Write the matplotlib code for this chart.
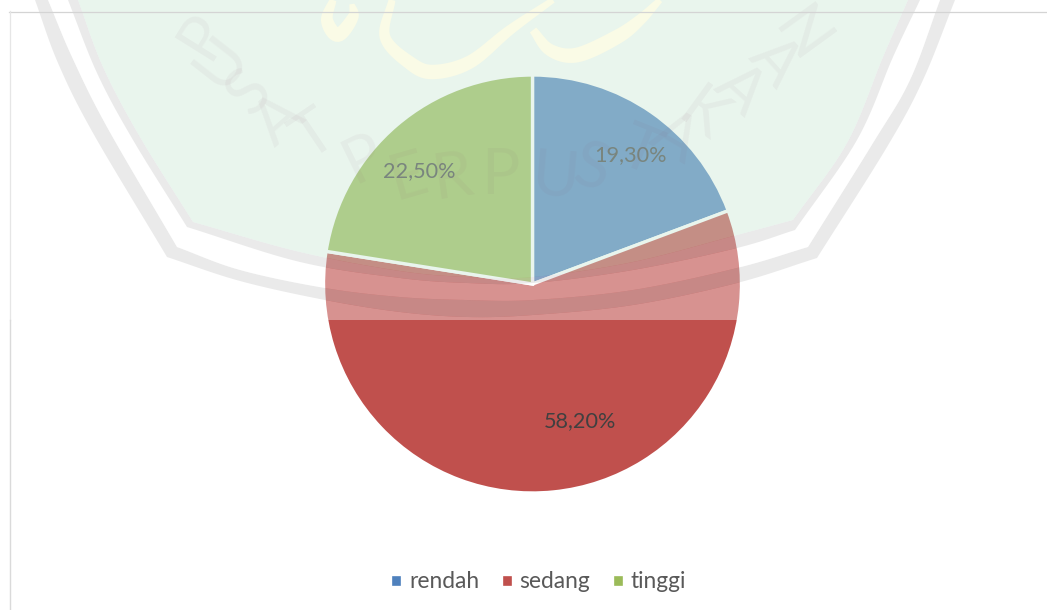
import numpy as np
import matplotlib.pyplot as plt
from matplotlib.patches import Polygon

plt.rcParams['font.family'] = ['Lato', 'DejaVu Sans']

labels = ['rendah', 'sedang', 'tinggi']
values = [19.3, 58.2, 22.5]
colors = ['#4f81bd', '#c0504d', '#9bbb59']

W, H = 1047, 610

fig = plt.figure(figsize=(W / 100, H / 100), dpi=100, facecolor='white')

# chart layer
ax = fig.add_axes([0, 0, 1, 1])
wedges, _ = ax.pie(values, colors=colors, startangle=90, counterclock=False,
                   center=(532.5, H - 284), radius=209,
                   wedgeprops={'edgecolor': 'white', 'linewidth': 2.4})
ax.set_xlim(0, W)
ax.set_ylim(0, H)
ax.axis('off')

label_pos = [(630, 155), (580, 421), (419, 171)]
for v, (x, y) in zip(values, label_pos):
    ax.text(x, H - y, f'{v:.2f}%'.replace('.', ','), ha='center', va='center',
            fontsize=15.6, color='#404040')

fig.legend(wedges, labels, loc='center', bbox_to_anchor=(538 / W, 1 - 582 / H),
           ncol=3, frameon=False, fontsize=16.4, labelcolor='#595959',
           handlelength=0.52, handleheight=0.5, handletextpad=0.3, columnspacing=0.95)

# watermark layer, pixel coords with y going down
ov = fig.add_axes([0, 0, 1, 1])
ov.set_xlim(0, W)
ov.set_ylim(H, 0)
ov.axis('off')
ov.patch.set_alpha(0)


def smooth(pts, n=12):
    # catmull-rom through the points
    p = np.array(pts, dtype=float)
    p = np.vstack([2 * p[0] - p[1], p, 2 * p[-1] - p[-2]])
    out = []
    for i in range(1, len(p) - 2):
        for t in np.linspace(0, 1, n, endpoint=False):
            out.append(0.5 * (2 * p[i] + (p[i + 1] - p[i - 1]) * t
                              + (2 * p[i - 1] - 5 * p[i] + 4 * p[i + 1] - p[i + 2]) * t ** 2
                              + (3 * p[i] - p[i - 1] - 3 * p[i + 1] + p[i + 2]) * t ** 3))
    out.append(p[-2])
    return [tuple(q) for q in out]


def shield(left, bottom, right):
    return smooth(left) + smooth(bottom) + smooth(right)


edge1 = shield([(35, 0), (58, 63), (93, 133), (167, 257)],
               [(167, 257), (240, 281), (325, 300), (400, 312), (467, 317), (533, 315), (633, 305),
                (737, 283), (817, 258)],
               [(817, 258), (887, 147), (923, 80), (955, 0)])
edge2 = shield([(48, 0), (72, 57), (107, 127), (177, 247)],
               [(177, 247), (240, 270), (325, 288), (400, 297), (467, 300), (533, 300), (633, 290),
                (737, 268), (808, 247)],
               [(808, 247), (873, 143), (910, 80), (940, 0)])
edge3 = shield([(68, 0), (97, 73), (133, 140), (187, 227)],
               [(187, 227), (300, 262), (400, 278), (467, 283), (533, 283), (633, 270), (737, 248),
                (795, 230)],
               [(795, 230), (857, 140), (893, 57), (920, 0)])
edge4 = shield([(78, 0), (103, 67), (140, 137), (193, 222)],
               [(193, 222), (300, 252), (400, 271), (467, 277), (533, 277), (633, 262), (737, 235),
                (793, 220)],
               [(793, 220), (847, 143), (883, 57), (908, 0)])

white = (1, 1, 1, 0.38)
grey = (208 / 255, 208 / 255, 208 / 255, 0.44)
green = (202 / 255, 231 / 255, 214 / 255, 0.415)


def ring(a, b, col):
    ov.add_patch(Polygon(a + b[::-1], closed=True, fc=col, ec='none'))


ov.add_patch(Polygon(edge1 + [(W, 0), (W, 320), (0, 320), (0, 0)], closed=True, fc=white, ec='none'))
ring(edge1, edge2, grey)
ring(edge2, edge3, white)
ring(edge3, edge4, grey)
ov.add_patch(Polygon(edge4, closed=True, fc=green, ec='none'))

# calligraphy at the top of the crest, ribbons of changing width
yellow = '#fafbe6'
strokes = [
    ([(333, 0), (327, 20), (338, 35), (353, 17), (352, 4)], 7, 5),
    ([(392, 0), (385, 37), (410, 63), (433, 72), (470, 62), (510, 30), (553, 0)], 7, 6),
    ([(533, 30), (550, 50), (577, 55), (617, 37), (640, 20), (660, 0)], 8, 6),
]
for pts, w0, w1 in strokes:
    line = np.array(smooth(pts))
    d = np.gradient(line, axis=0)
    nrm = np.column_stack([-d[:, 1], d[:, 0]]) / np.hypot(d[:, 0], d[:, 1])[:, None]
    frac = np.linspace(0, 1, len(line))
    ww = (w0 + (w1 - w0) * frac + 8 * np.sin(np.pi * frac)) / 2
    outline = np.vstack([line + nrm * ww[:, None], (line - nrm * ww[:, None])[::-1]])
    ov.add_patch(Polygon(outline, closed=True, fc=yellow, ec='none', zorder=3))

# arched text of the watermark
marks = [('P', 203, 36, -58), ('U', 222, 62, -52), ('S', 250, 93, -47), ('A', 279, 120, -41),
         ('T', 315, 136, -34), ('P', 363, 159, -26), ('E', 408, 178, -16), ('R', 452, 178, -8),
         ('P', 500, 176, 0), ('U', 556, 178, 5), ('S', 592, 170, 13), ('T', 640, 152, 22),
         ('A', 675, 138, 30), ('K', 702, 116, 36), ('A', 740, 90, 42), ('A', 775, 62, 48),
         ('N', 800, 36, 54)]
for ch, x, y, rot in marks:
    ov.text(x, y, ch, ha='center', va='center', rotation=-rot, rotation_mode='anchor',
            fontsize=46, color='#8a5a70', alpha=0.06, zorder=4)

# thin frame left of and above the chart
ov.plot([9, W], [11.5, 11.5], color='#d4d4d4', lw=0.9, zorder=5)
ov.plot([9.5, 9.5], [11, 320], color='#e6e6e6', lw=0.9, zorder=5)
ov.plot([9.5, 9.5], [320, H], color='#dadada', lw=1.0, zorder=5)

fig.savefig('out.png', dpi=100)
